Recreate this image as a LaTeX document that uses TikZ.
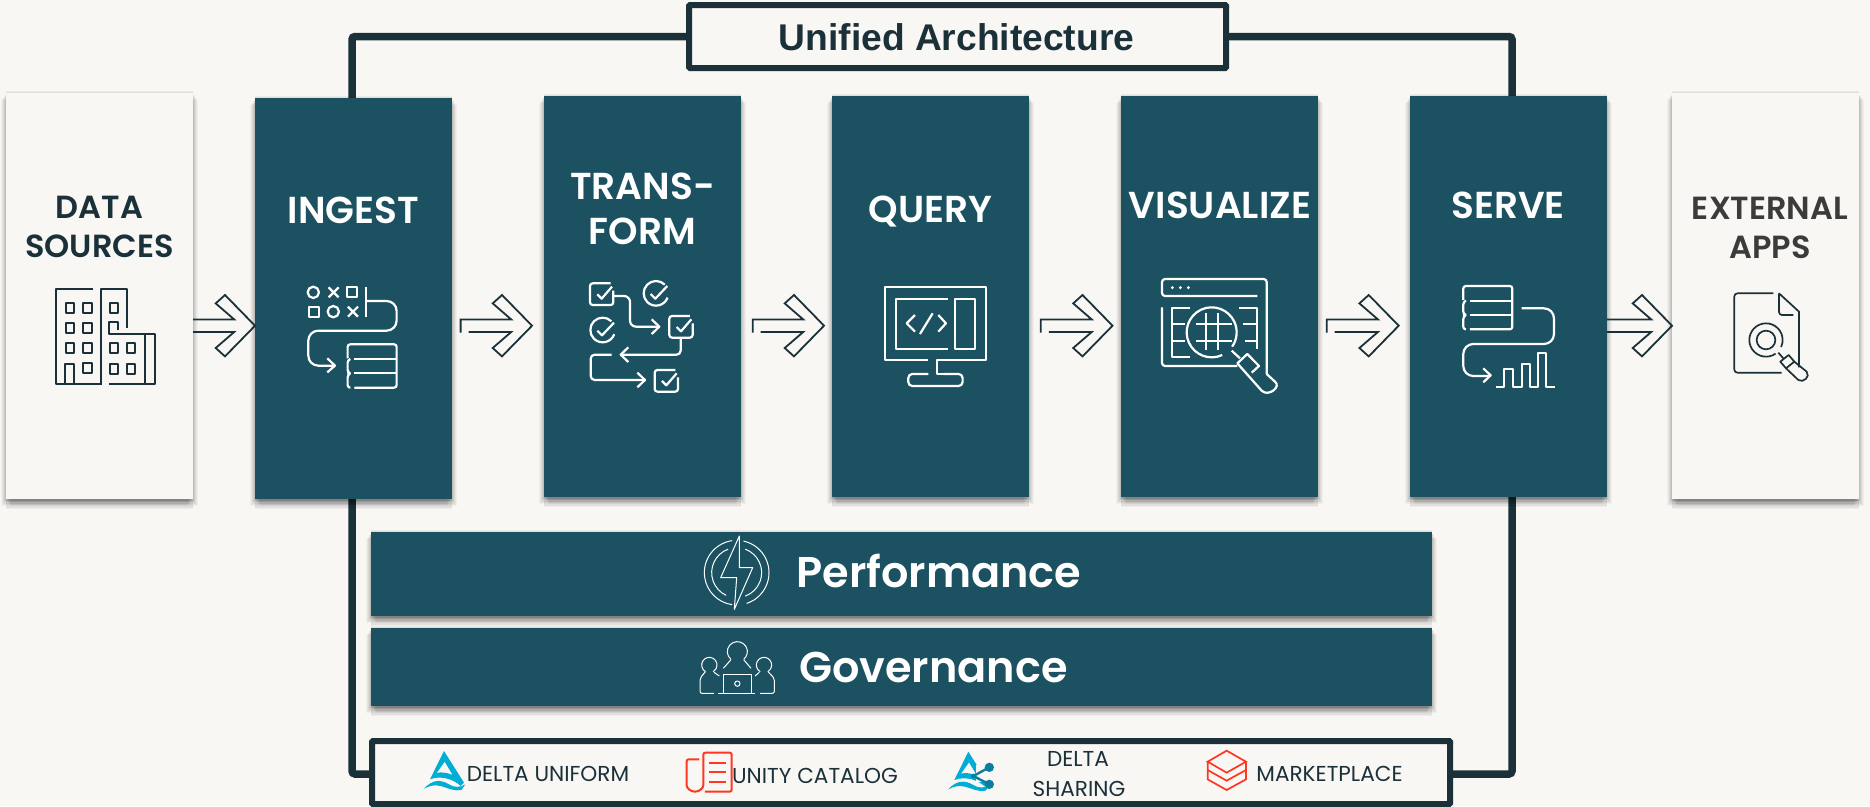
\documentclass[tikz,border=0pt]{standalone}
\usepackage{fontspec}
\setmainfont{Poppins}
\newfontfamily\stepfont{Poppins SemiBold}
\newfontfamily\titlefont{Liberation Sans}
\usetikzlibrary{positioning,backgrounds,calc,shadows}
\definecolor{pagebg}{HTML}{F9F7F4}
\definecolor{stepteal}{HTML}{1C5162}
\definecolor{navy}{HTML}{1B3139}
\definecolor{greytext}{HTML}{3B3B3B}
\definecolor{deltablue}{HTML}{00ADD4}
\definecolor{sharenode}{HTML}{0B7EA0}
\definecolor{brickred}{HTML}{FF3621}
\tikzset{
    softlayer/.style args={#1/#2/#3}{general shadow={fill=black,opacity=#3,shadow xshift=#1pt,shadow yshift=#2pt}},
    softshadow/.style={
        softlayer=0/-10/.04, softlayer=0/-8.5/.05,
        softlayer=5/-7/.03, softlayer=-5/-7/.03,
        softlayer=4/-6/.04, softlayer=-4/-6/.04,
        softlayer=3/-5/.05, softlayer=-3/-5/.05,
        softlayer=2/-3/.06, softlayer=-2/-3/.06,
        softlayer=1/-1.5/.07, softlayer=-1/-1.5/.07,
        softlayer=0/2/.05, softlayer=0/1/.05
    },
    stepbox/.style={rectangle, fill=stepteal, softshadow, outer sep=0pt, minimum width=197pt, minimum height=401pt},
    endbox/.style={rectangle, fill=pagebg, softshadow, outer sep=0pt, minimum width=187pt, minimum height=406pt},
    bar/.style={rectangle, fill=stepteal, softshadow, outer sep=0pt, minimum width=1061pt},
    framebox/.style={rectangle, draw=navy, line width=6pt, fill=pagebg, rounded corners=1pt, outer sep=0pt},
    frameline/.style={draw=navy, line width=7.5pt, rounded corners=3pt},
    steplabel/.style={anchor=base, text=white, inner sep=0pt, font=\stepfont\fontsize{37.5}{38}\selectfont},
    endlabel/.style={anchor=base, text=navy, inner sep=0pt, font=\stepfont\fontsize{32}{33}\selectfont},
    barlabel/.style={anchor=base, text=white, inner sep=0pt, font=\stepfont\fontsize{43}{43}\selectfont},
    toollabel/.style={anchor=base, text=navy, inner sep=0pt, font=\fontsize{21.6}{22}\selectfont},
    whiteicon/.style={draw=white, line width=2.2pt, line join=round},
    darkicon/.style={draw=navy, line width=2.3pt, line join=round},
    zoomed/.style={shift={#1}, x=.3333pt, y=-.3333pt},
    % hollow block arrow, flush with both boxes
    flowarrow/.style={draw=navy, line width=1.8pt, line join=miter, to path={
        ($(\tikztostart)+(0,-6.2)$) -- ($(\tikztotarget)+(-20.7,-6.2)$) -- ($(\tikztotarget)+(-39.3,-22.3)$)
        -- ($(\tikztotarget)+(-30,-30.7)$) -- (\tikztotarget) -- ($(\tikztotarget)+(-30,30.7)$)
        -- ($(\tikztotarget)+(-39.3,22.3)$) -- ($(\tikztotarget)+(-20.7,6.2)$) -- ($(\tikztostart)+(0,6.2)$)}},
    % same arrow, free tail
    gaparrow/.style={draw=navy, line width=1.8pt, line join=miter, to path={
        ($(\tikztostart)+(0,6.8)$) -- ($(\tikztostart)+(0,-6.2)$) -- ($(\tikztotarget)+(-20.7,-6.2)$) -- ($(\tikztotarget)+(-39.3,-22.3)$)
        -- ($(\tikztotarget)+(-30,-30.7)$) -- (\tikztotarget) -- ($(\tikztotarget)+(-30,30.7)$)
        -- ($(\tikztotarget)+(-39.3,22.3)$) -- ($(\tikztotarget)+(-20.7,6.2)$) -- ($(\tikztostart)+(8,6.2)$)}},
    datastack/.pic={
        \draw[rounded corners=2.5pt] (0,42) -- (0,0) -- (147,0) -- (147,130) -- (20,130);
        \draw (20,44) -- (147,44) (20,87) -- (147,87);
        \draw[rounded corners=2.5pt] (8,44) -- (0,48) -- (0,84) -- (8,87) -- (0,92) -- (0,130) -- (8,130);
    },
    checkbox/.pic={
        \draw[rounded corners=2.7pt] (62,2) -- (0,2) -- (0,67) -- (70,67) -- (70,24);
        \draw (22,35) -- (35,48) -- (66,12);
    },
    checkcircle/.pic={
        \draw (0,0) ++(-45:37) arc[start angle=-45, end angle=-340, radius=37];
        \draw (-16,2) -- (-2,16) -- (34,-22);
    },
    deltamark/.pic={
        \fill[deltablue, even odd rule] (0,0) -- (60,95) -- (50,105) .. controls (30,85) and (-10,72) .. (-42,85) -- cycle
            (2,32) -- (26,72) .. controls (10,65) and (-8,62) .. (-22,66) -- cycle;
        \fill[deltablue] (-60,113) .. controls (-35,85) and (-10,85) .. (15,100) .. controls (30,110) and (50,110) .. (64,100)
            -- (52,117) .. controls (30,122) and (10,110) .. (-10,105) .. controls (-30,100) and (-45,105) .. (-60,113) -- cycle;
    }
}

\begin{document}
\begin{tikzpicture}[x=1pt, y=-1pt, node distance=91pt]
    \useasboundingbox (0,0) rectangle (1870,806);

    \coordinate (FlowLine) at (0,325.7);

    \node (DataSources) [endbox] at (99.5,296) {};
    \node (Ingest) [stepbox, right=62pt of DataSources, yshift=-2.5pt] {};
    \node (Transform) [stepbox, right=92pt of Ingest, yshift=2pt] {};
    \node (Query) [stepbox, right=of Transform] {};
    \node (Visualize) [stepbox, right=92pt of Query] {};
    \node (Serve) [stepbox, right=92pt of Visualize] {};
    \node (ExternalApps) [endbox, right=65pt of Serve, yshift=.5pt] {};

    \node (Performance) [bar, minimum height=84pt] at (901.5,574) {};
    \node (Governance) [bar, minimum height=78pt, below=12pt of Performance] {};

    \node (Title) [framebox, minimum width=537pt, minimum height=63pt] at (957.5,36.5) {};
    \node (Tools) [framebox, minimum width=1078pt, minimum height=63pt] at (911,772.5) {};

    \begin{scope}[on background layer]
        \fill[pagebg] (0,0) rectangle (1870,806);
        \draw[frameline] (Title.west) -| (352,774) -- (Tools.west |- 0,774);
        \draw[frameline] (Title.east) -| (1512,774) -- (Tools.east |- 0,774);
    \end{scope}

    \node (TitleLabel) [anchor=base, text=navy, inner sep=0pt, font=\titlefont\bfseries\fontsize{37.2}{37}\selectfont] at (956.5,50) {Unified Architecture};

    \node (DataLabel) [endlabel] at (99.5,218) {DATA};
    \node (SourcesLabel) [endlabel] at (99.5,257) {SOURCES};
    \node (IngestLabel) [steplabel] at (353.5,223) {INGEST};
    \node (TransLabel) [steplabel] at (642.5,199) {TRANS-};
    \node (FormLabel) [steplabel] at (642.5,244) {FORM};
    \node (QueryLabel) [steplabel] at (930.5,222) {QUERY};
    \node (VisualizeLabel) [steplabel] at (1220,218) {VISUALIZE};
    \node (ServeLabel) [steplabel] at (1508,218) {SERVE};
    \node (ExternalLabel) [endlabel, text=greytext] at (1770,219) {EXTERNAL};
    \node (AppsLabel) [endlabel, text=greytext] at (1770,258) {APPS};

    \node (PerformanceLabel) [barlabel] at (939,587) {Performance};
    \node (GovernanceLabel) [barlabel] at (933.5,682) {Governance};

    \node (UniformLabel) [toollabel] at (548,781) {DELTA UNIFORM};
    \node (CatalogLabel) [toollabel] at (815,783) {UNITY CATALOG};
    \node (DeltaLabel) [toollabel] at (1078,766) {DELTA};
    \node (SharingLabel) [toollabel] at (1079,796) {SHARING};
    \node (MarketLabel) [toollabel] at (1329.5,781) {MARKETPLACE};

    \draw[flowarrow] (DataSources.east |- FlowLine) to (Ingest.west |- FlowLine);
    \draw[gaparrow] ([xshift=8.6pt]Ingest.east |- FlowLine) to ([xshift=-12pt]Transform.west |- FlowLine);
    \draw[gaparrow] ([xshift=11.7pt]Transform.east |- FlowLine) to ([xshift=-8pt]Query.west |- FlowLine);
    \draw[gaparrow] ([xshift=11.8pt]Query.east |- FlowLine) to ([xshift=-8.5pt]Visualize.west |- FlowLine);
    \draw[gaparrow] ([xshift=8.7pt]Visualize.east |- FlowLine) to ([xshift=-11.3pt]Serve.west |- FlowLine);
    \draw[flowarrow] (Serve.east |- FlowLine) to (ExternalApps.west |- FlowLine);

    % buildings and ingest icons
    \begin{scope}[zoomed={(50,275)}]
        \draw[darkicon] (130,42) -- (18,42) -- (18,326) -- (155,326) (152,326) -- (152,42) -- (232,42) -- (232,160);
        \draw[darkicon] (205,165) -- (205,142) -- (178,142) -- (178,178) -- (316,178) -- (316,326) -- (178,326);
        \draw[darkicon] (285,178) -- (285,326);
        \draw[darkicon] (46,326) -- (46,266) -- (72,266) -- (72,326);
        \foreach \wx/\wy in {60/98,112/98,60/158,112/158,60/220,112/220,112/280,192/98,192/220,243/220,192/283,243/283}
            \draw[darkicon] (\wx-13,\wy-15) rectangle (\wx+13,\wy+15);

        \draw[whiteicon] (790,52) circle (17) (850,110) circle (17);
        \draw[whiteicon] (836,37) -- (866,67) (836,67) -- (866,37) (894,95) -- (924,125) (894,125) -- (924,95);
        \draw[whiteicon] (890,37) rectangle (920,67) (777,95) rectangle (807,125);
        \draw[whiteicon] (948,35) -- (948,125);
        \draw[whiteicon, rounded corners=10pt] (948,78) -- (1040,78) -- (1040,167) -- (775,167) -- (775,272) -- (852,272);
        \draw[whiteicon] (832,250) -- (855,272) -- (832,292);
        \pic[whiteicon] at (893,208) {datastack};
    \end{scope}

    % transform and query icons
    \begin{scope}[zoomed={(580,270)}]
        \pic[whiteicon] at (30,38) {checkbox};
        \pic[whiteicon] at (268,136) {checkbox};
        \pic[whiteicon] at (224,298) {checkbox};
        \pic[whiteicon] at (228,70) {checkcircle};
        \pic[whiteicon] at (68,180) {checkcircle};
        \draw[whiteicon, rounded corners=6pt] (100,78) -- (150,78) -- (150,170) -- (235,170);
        \draw[whiteicon] (215,148) -- (238,170) -- (215,192);
        \draw[whiteicon, rounded corners=4pt] (302,204) -- (302,254) -- (125,254);
        \draw[whiteicon] (145,232) -- (122,254) -- (145,276);
        \draw[whiteicon, rounded corners=4pt] (95,254) -- (32,254) -- (32,330) -- (192,330);
        \draw[whiteicon] (172,308) -- (195,330) -- (172,352);

        \draw[whiteicon] (1045,270) -- (915,270) -- (915,50) -- (1218,50) -- (1218,270) -- (1070,270) -- (1070,312) -- (1088,312);
        \draw[whiteicon, rounded corners=4pt] (1045,312) -- (985,312) -- (985,348) -- (1148,348) -- (1148,312) -- (1088,312);
        \draw[whiteicon] (1103,87) -- (948,87) -- (948,238) -- (1103,238);
        \draw[whiteicon] (1125,87) rectangle (1185,238);
        \draw[whiteicon] (1005,135) -- (980,160) -- (1005,185) (1058,130) -- (1020,192) (1075,135) -- (1098,160) -- (1075,185);
    \end{scope}

    % visualize and serve icons
    \begin{scope}[zoomed={(1150,270)}]
        \draw[whiteicon, rounded corners=3pt] (322,78) -- (36,78) -- (36,27) -- (350,27) -- (350,312);
        \draw[whiteicon, rounded corners=3pt] (36,112) -- (36,288) -- (262,288);
        \fill[white] (67,53) circle (5) (91,53) circle (5) (115,53) circle (5);
        \draw[whiteicon] (120,115) -- (67,115) -- (67,260) -- (120,260) (67,163) -- (105,163) (67,212) -- (105,212);
        \draw[whiteicon] (268,115) -- (322,115) -- (322,238) (280,163) -- (322,163) (285,212) -- (322,212);
        \draw[whiteicon] (185,187) ++(65:75) arc[start angle=65, end angle=395, radius=75];
        \draw[whiteicon] (168,130) -- (168,240) (205,130) -- (205,240) (138,163) -- (245,163) (138,212) -- (245,212);
        \draw[whiteicon] (245,242) -- (270,265);
        \draw[whiteicon] (305,308) -- (327,288) -- (292,252) -- (262,280) -- (335,362) .. controls (355,382) and (395,350) .. (375,335) -- (350,312);

        \pic[whiteicon] at (940,48) {datastack};
        \draw[whiteicon, rounded corners=10pt] (1115,115) -- (1212,115) -- (1212,222) -- (940,222) -- (940,318) -- (1020,318);
        \draw[whiteicon] (1000,295) -- (1022,316) -- (1000,337);
        \draw[whiteicon] (1037,350) -- (1062,350) -- (1062,298) -- (1090,298) -- (1090,350) -- (1115,350) -- (1115,282) -- (1140,282) -- (1140,350) -- (1163,350) -- (1163,250) -- (1188,250) -- (1188,350) -- (1215,350);
    \end{scope}

    % external apps icon
    \begin{scope}[zoomed={(1600,280)}]
        \draw[darkicon, line width=1.7pt, rounded corners=3pt] (520,40) -- (403,40) -- (403,278) -- (545,278);
        \draw[darkicon, line width=1.7pt, rounded corners=3pt] (580,105) -- (537,105) -- (537,40);
        \draw[darkicon, line width=1.7pt] (537,40) -- (597,95) -- (597,262);
        \draw[darkicon, line width=1.7pt] (498,180) ++(55:50) arc[start angle=55, end angle=385, radius=50];
        \draw[darkicon, line width=1.7pt] (498,180) circle (28);
        \draw[darkicon, line width=1.7pt] (535,218) -- (550,235);
        \draw[darkicon, line width=1.7pt] (558,265) -- (541,245) -- (566,225) -- (583,245) -- (558,265) -- (595,300) .. controls (610,310) and (632,290) .. (620,275) -- (583,245);
    \end{scope}

    % performance and governance icons
    \begin{scope}[zoomed={(690,530)}]
        \draw[whiteicon, line width=1pt] (140,128) ++(-98:97) arc[start angle=-98, end angle=-262, radius=97];
        \draw[whiteicon, line width=1pt] (140,128) ++(-78:97) arc[start angle=-78, end angle=72, radius=97];
        \draw[whiteicon, line width=1pt] (140,128) ++(-110:75) arc[start angle=-110, end angle=-245, radius=75];
        \draw[whiteicon, line width=1pt] (140,128) ++(-70:75) arc[start angle=-70, end angle=70, radius=75];
        \draw[whiteicon, line width=1pt] (148,18) -- (148,113) -- (188,113) -- (133,238) -- (140,143) -- (92,143) -- cycle;

        \draw[whiteicon, line width=1pt] (142,365) ++(130:30) arc[start angle=130, end angle=410, radius=30];
        \draw[whiteicon, line width=1pt] (123,389) -- (100,415) (161,389) -- (183,415);
        \draw[whiteicon, line width=1pt] (58,405) ++(120:23) arc[start angle=120, end angle=420, radius=23];
        \draw[whiteicon, line width=1pt] (222,405) ++(120:23) arc[start angle=120, end angle=420, radius=23];
        \draw[whiteicon, line width=1pt, rounded corners=2pt] (46,425) -- (30,445) -- (30,490) -- (72,490);
        \draw[whiteicon, line width=1pt, rounded corners=2pt] (234,425) -- (253,445) -- (253,490) -- (210,490);
        \draw[whiteicon, line width=1pt] (72,427) -- (88,438) (208,427) -- (195,438);
        \draw[whiteicon, line width=1pt] (100,490) -- (100,435) -- (183,435) -- (183,490) (85,490) -- (195,490);
        \draw[whiteicon, line width=1pt] (142,461) circle (8);
    \end{scope}

    % delta uniform and unity catalog logos
    \begin{scope}[zoomed={(420,740)}]
        \pic at (72,33) {deltamark};
        \draw[brickred, line width=2pt, rounded corners=2pt] (838,58) -- (800,58) -- (800,130) arc[start angle=180, end angle=0, radius=25] -- (850,38) -- (935,38) -- (935,155) -- (855,155);
        \draw[brickred, line width=2pt] (868,70) -- (918,70) (868,97) -- (918,97) (868,125) -- (918,125);
    \end{scope}

    % delta sharing and marketplace logos
    \begin{scope}[zoomed={(930,740)}]
        \pic at (115,35) {deltamark};
        \fill[pagebg] (137,75) rectangle (195,125);
        \draw[sharenode, line width=2.4pt] (178,82) -- (130,108) -- (178,133);
        \fill[sharenode] (178,82) circle (14) (178,133) circle (14) (130,108) circle (7);
        \draw[brickred, line width=1.7pt] (890,32) -- (948,65) -- (890,98) -- (833,65) -- cycle;
        \draw[brickred, line width=1.7pt] (833,65) -- (833,90) -- (890,122) -- (948,90);
        \draw[brickred, line width=1.7pt] (948,65) -- (948,118) -- (890,150) -- (833,118) -- (833,90);
    \end{scope}
\end{tikzpicture}
\end{document}
